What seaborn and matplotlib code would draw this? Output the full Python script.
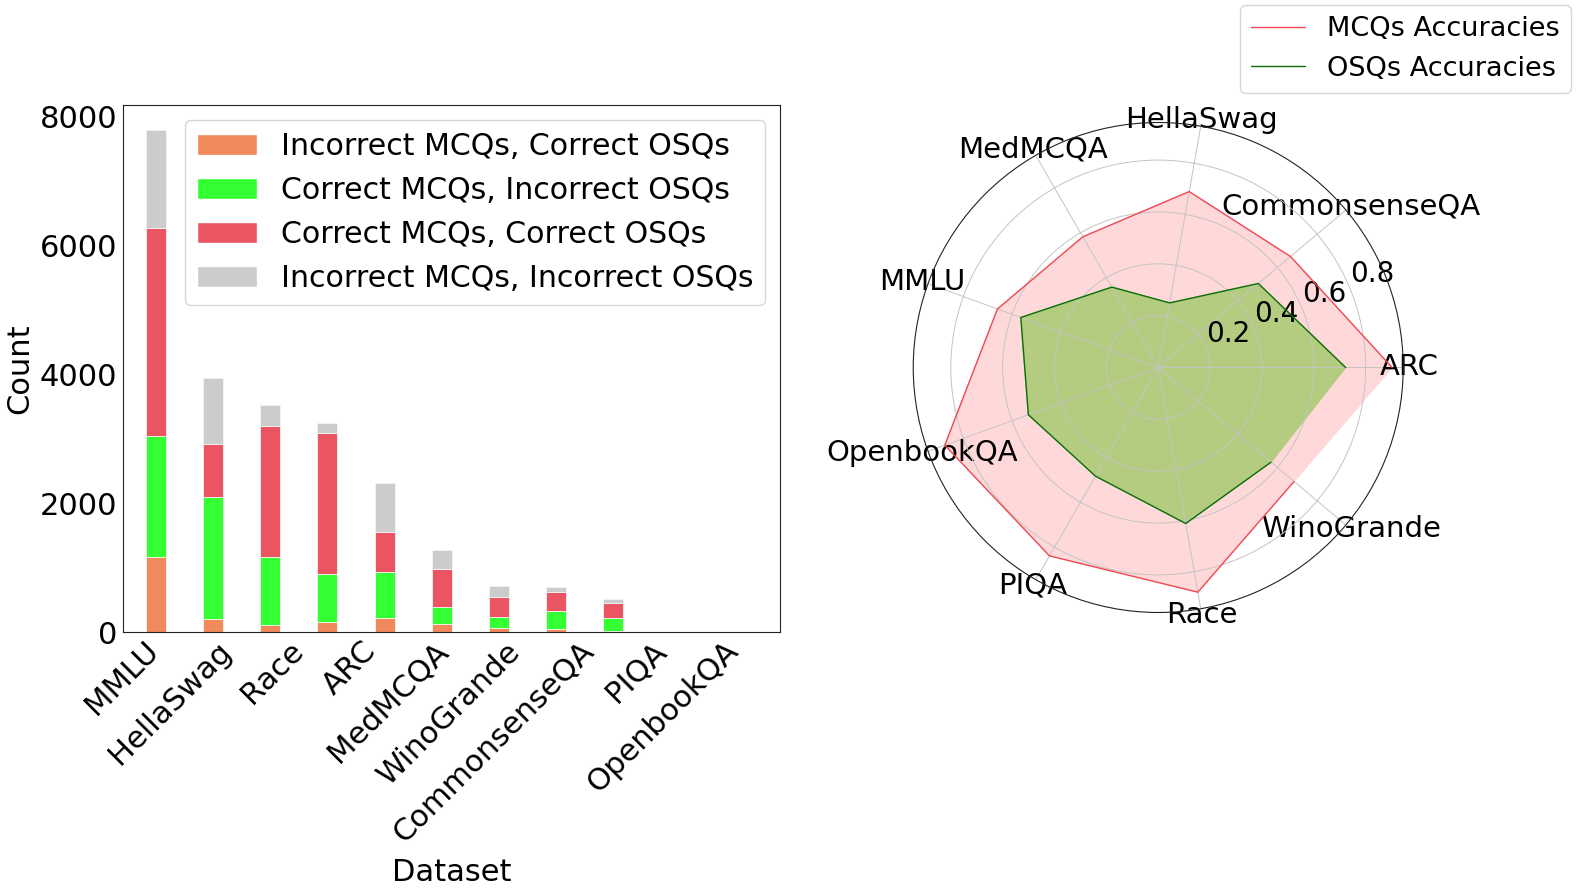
import numpy as np
import pandas as pd
import matplotlib
matplotlib.use("Agg")
import matplotlib.pyplot as plt
from matplotlib.patches import Patch
import seaborn as sns

# bar chart data (counts per dataset)
datasets = ["MMLU", "HellaSwag", "Race", "ARC", "MedMCQA", "WinoGrande",
            "CommonsenseQA", "PIQA", "OpenbookQA"]
inc_mcq_cor_osq = [1160, 200, 113, 150, 222, 129, 62, 46, 15]
cor_mcq_inc_osq = [1888, 1900, 1056, 750, 714, 253, 171, 285, 207]
cor_mcq_cor_osq = [3216, 812, 2034, 2184, 621, 596, 304, 290, 233]
inc_mcq_inc_osq = [1525, 1025, 326, 166, 761, 295, 182, 78, 51]

categories = ["Incorrect MCQs, Correct OSQs", "Correct MCQs, Incorrect OSQs",
              "Correct MCQs, Correct OSQs", "Incorrect MCQs, Incorrect OSQs"]
bar_colors = ["#f08a5d", "#33ff33", "#ea5561", "#cccccc"]

# radar chart data (accuracies)
radar_labels = ["ARC", "CommonsenseQA", "HellaSwag", "MedMCQA", "MMLU",
                "OpenbookQA", "PIQA", "Race", "WinoGrande"]
mcq_acc = [0.902, 0.666, 0.689, 0.582, 0.660, 0.876, 0.839, 0.880, 0.684]
osq_acc = [0.723, 0.504, 0.253, 0.358, 0.564, 0.533, 0.484, 0.611, 0.568]

sns.set_style("white", rc={"text.color": "black", "axes.labelcolor": "black",
                           "xtick.color": "black", "ytick.color": "black",
                           "axes.edgecolor": "#222222"})
plt.rcParams["font.family"] = ["DejaVu Sans"]

# long format for stacked histplot
rows = []
for cat, vals in zip(categories, [inc_mcq_cor_osq, cor_mcq_inc_osq, cor_mcq_cor_osq, inc_mcq_inc_osq]):
    for d, v in zip(datasets, vals):
        rows.append((d, cat, v))
df = pd.DataFrame(rows, columns=["Dataset", "Type", "Count"])

fig = plt.figure(figsize=(15.77, 8.96), dpi=100)

# ---- stacked bars ----
ax1 = fig.add_axes([0.078, 0.2946, 0.4168, 0.5882])
sns.histplot(data=df, x="Dataset", weights="Count", hue="Type",
             hue_order=categories[::-1], palette=dict(zip(categories, bar_colors)),
             multiple="stack", shrink=0.35, alpha=1, linewidth=0.6,
             edgecolor="#f4f4f4", legend=False, ax=ax1)
ax1.set_xlim(-0.58, 10.93)
ax1.set_ylim(0, 8180)
ax1.set_yticks([0, 2000, 4000, 6000, 8000])
# tick marks at the bars, the labels sit on a wider spacing
ax1.set_xticks(np.arange(len(datasets)), labels=[""] * len(datasets))
ax1.set_xticks(np.arange(len(datasets)) * 1.27 + 0.14, labels=datasets, minor=True)
ax1.tick_params(axis="x", which="minor", length=0, labelsize=22, pad=3)
ax1.tick_params(axis="both", which="major", labelsize=22, direction="in", length=3, pad=4)
plt.setp(ax1.get_xticklabels(minor=True), rotation=45, ha="right")
ax1.set_xlabel("Dataset", fontsize=22, labelpad=7)
ax1.set_ylabel("Count", fontsize=22)
handles = [Patch(facecolor=c, label=l) for c, l in zip(bar_colors, categories)]
ax1.legend(handles=handles, loc="upper right", fontsize=21.6)

# ---- radar ----
ax2 = fig.add_axes([0.5791, 0.3164, 0.3107, 0.5469], polar=True)
ax2.set_axisbelow("line")
angles = np.linspace(0, 2 * np.pi, len(radar_labels), endpoint=False)
ang_c = np.append(angles, angles[0])
mcq_c = mcq_acc + mcq_acc[:1]
osq_c = osq_acc + osq_acc[:1]

ax2.fill(ang_c, mcq_c, color="#ffd9d9", zorder=1)
ax2.fill(ang_c, osq_c, color="#b4cc80", zorder=1)
sns.lineplot(x=ang_c, y=mcq_c, sort=False, color="#ee4a55", linewidth=1,
             label="MCQs Accuracies", ax=ax2)
sns.lineplot(x=ang_c, y=osq_c, sort=False, color="#0a6e0a", linewidth=1,
             label="OSQs Accuracies", ax=ax2)
ax2.set_xticks(angles)
ax2.set_xticklabels(radar_labels, fontsize=21)
ax2.tick_params(axis="x", pad=-6)
ax2.set_ylim(0, 0.945)
ax2.set_yticks([0.2, 0.4, 0.6, 0.8])
ax2.set_yticklabels(["0.2", "0.4", "0.6", "0.8"], fontsize=20)
ax2.set_xlabel("")
ax2.set_ylabel("")
ax2.grid(color="#c4c4c4", linewidth=0.7)
ax2.spines["polar"].set_linewidth(0.8)
ax2.spines["polar"].set_color("#222222")
ax2.legend(loc="upper right", bbox_to_anchor=(0.996, 0.994),
           bbox_transform=fig.transFigure, borderaxespad=0, fontsize=19.5)

fig.savefig("out.png", dpi=100)
